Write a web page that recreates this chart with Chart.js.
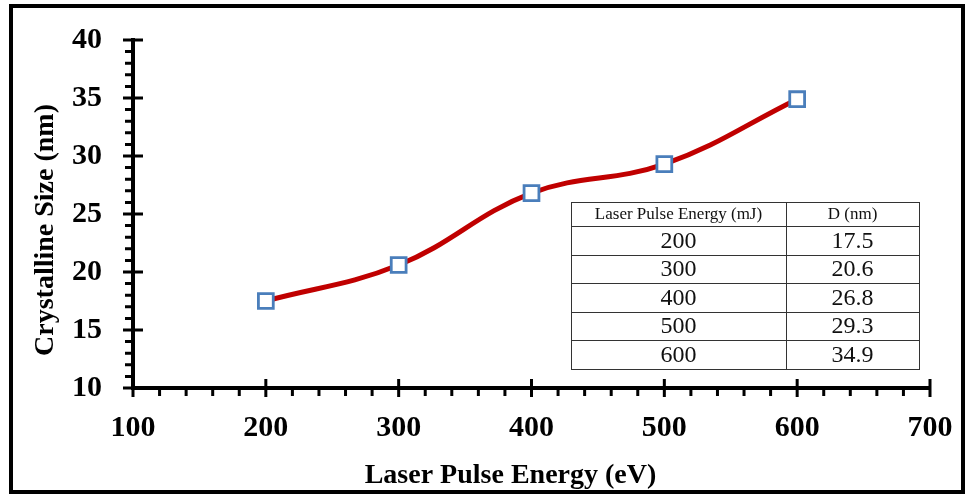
<!DOCTYPE html>
<html lang="en">
<head>
<meta charset="UTF-8">
<title>Crystalline size vs laser pulse energy</title>
<script src="https://cdn.jsdelivr.net/npm/chart.js"></script>
<style>
    body { margin: 0; background: #fff; overflow: hidden; }
    #wrap { position: relative; width: 969px; height: 497px; }
    #chart-box { position: absolute; left: 0; top: 0; width: 969px; height: 497px; }
    #frame {
        position: absolute; left: 9px; top: 4px; width: 948px; height: 482px;
        border: 4px solid #000; pointer-events: none;
    }
</style>
</head>
<body>
<div id="wrap">
    <div id="chart-box"><canvas id="chart"></canvas></div>
    <div id="frame"></div>
</div>

<script>
// data
const energies = [200, 300, 400, 500, 600];
const sizes = [17.5, 20.6, 26.8, 29.3, 34.9];
const tableHeaders = ['Laser Pulse Energy (mJ)', 'D (nm)'];
const xTitle = 'Laser Pulse Energy (eV)';
const yTitle = 'Crystalline Size (nm)';

const serif = '"Liberation Serif", "Times New Roman", serif';

// cross ticks on major values, small outside ticks in between
const axisTicks = {
    id: 'axisTicks',
    beforeDatasetsDraw(chart) {
        const ctx = chart.ctx;
        const x = chart.scales.x, y = chart.scales.y;
        const area = chart.chartArea;
        ctx.save();
        ctx.strokeStyle = '#000';
        ctx.lineWidth = 3;
        ctx.beginPath();
        for (let v = 10; v <= 40; v += 1) {
            const py = y.getPixelForValue(v);
            if (v % 5 === 0) {
                ctx.moveTo(area.left - 10, py);
                ctx.lineTo(area.left + 10, py);
            } else {
                ctx.moveTo(area.left - 8, py);
                ctx.lineTo(area.left, py);
            }
        }
        for (let v = 100; v <= 700; v += 20) {
            const px = x.getPixelForValue(v);
            if (v % 100 === 0) {
                ctx.moveTo(px, area.bottom - 9);
                ctx.lineTo(px, area.bottom + 9);
            } else {
                ctx.moveTo(px, area.bottom);
                ctx.lineTo(px, area.bottom + 8);
            }
        }
        ctx.stroke();

        // axis titles, placed a little off centre like the original
        ctx.fillStyle = '#000';
        ctx.font = 'bold 28px ' + serif;
        ctx.textAlign = 'center';
        ctx.textBaseline = 'middle';
        ctx.fillText(xTitle, (area.left + area.right) / 2 - 21, 476);
        ctx.translate(46, (area.top + area.bottom) / 2 + 16);
        ctx.rotate(-Math.PI / 2);
        ctx.fillText(yTitle, 0, 0);
        ctx.restore();
    }
};

// inset table with the values, bottom right of the plot
const insetTable = {
    id: 'insetTable',
    afterDraw(chart) {
        const ctx = chart.ctx;
        const cols = [571, 786, 919];
        const rows = [202, 226];
        energies.forEach(() => rows.push(rows[rows.length - 1] + 28.6));
        ctx.save();
        ctx.fillStyle = '#fff';
        ctx.fillRect(cols[0], rows[0], cols[2] - cols[0], rows[rows.length - 1] - rows[0]);
        ctx.strokeStyle = '#333';
        ctx.lineWidth = 1;
        ctx.beginPath();
        rows.forEach(r => {
            const yy = Math.round(r) + 0.5;
            ctx.moveTo(cols[0], yy);
            ctx.lineTo(cols[2] + 1, yy);
        });
        cols.forEach(c => {
            ctx.moveTo(c + 0.5, rows[0]);
            ctx.lineTo(c + 0.5, Math.round(rows[rows.length - 1]) + 1);
        });
        ctx.stroke();

        ctx.fillStyle = '#111';
        ctx.textAlign = 'center';
        ctx.textBaseline = 'middle';
        const mid1 = (cols[0] + cols[1]) / 2, mid2 = (cols[1] + cols[2]) / 2;
        ctx.font = '17px ' + serif;
        ctx.fillText(tableHeaders[0], mid1, (rows[0] + rows[1]) / 2 + 1);
        ctx.fillText(tableHeaders[1], mid2, (rows[0] + rows[1]) / 2 + 1);
        ctx.font = '24px ' + serif;
        energies.forEach((e, i) => {
            const cy = (rows[i + 1] + rows[i + 2]) / 2 + 1;
            ctx.fillText(String(e), mid1, cy);
            ctx.fillText(sizes[i].toFixed(1), mid2, cy);
        });
        ctx.restore();
    }
};

new Chart(document.getElementById('chart'), {
    type: 'line',
    data: {
        datasets: [{
            data: energies.map((e, i) => ({ x: e, y: sizes[i] })),
            borderColor: '#c00000',
            borderWidth: 5,
            tension: 0.4,
            pointStyle: 'rect',
            pointRadius: 10.5,
            pointBorderWidth: 2.8,
            pointBorderColor: '#4a7ebb',
            pointBackgroundColor: '#fff'
        }]
    },
    options: {
        responsive: true,
        maintainAspectRatio: false,
        animation: false,
        layout: { padding: { top: 40, right: 39, bottom: 0, left: 0 } },
        plugins: { legend: { display: false }, tooltip: { enabled: false } },
        scales: {
            x: {
                type: 'linear',
                min: 100, max: 700,
                afterFit: s => { s.height = 109; s.paddingLeft = 0; s.paddingRight = 0; },
                grid: { display: false, drawTicks: false },
                border: { display: true, color: '#000', width: 4 },
                ticks: {
                    stepSize: 100, padding: 22, color: '#000',
                    font: { family: serif, size: 30, weight: 'bold' }
                }
            },
            y: {
                min: 10, max: 40,
                afterFit: s => { s.width = 133; s.paddingTop = 0; s.paddingBottom = 0; },
                grid: { display: false, drawTicks: false },
                border: { display: true, color: '#000', width: 4 },
                ticks: {
                    stepSize: 5, padding: 31, color: '#000',
                    font: { family: serif, size: 30, weight: 'bold' }
                }
            }
        }
    },
    plugins: [axisTicks, insetTable]
});
</script>
</body>
</html>
